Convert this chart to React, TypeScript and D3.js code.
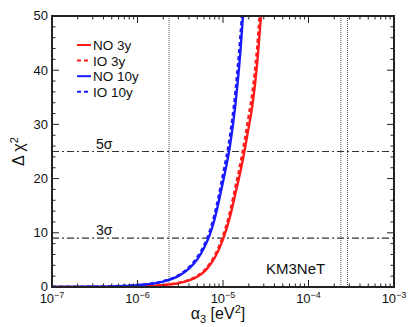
import React from 'react';
import * as d3 from 'd3';

// alpha_3 grid [eV^2] and Delta chi^2 for each configuration
const alphaGrid = [1e-7, 3e-7, 1e-6, 2e-6, 3e-6, 4e-6, 5e-6, 6e-6, 7e-6, 8e-6, 1e-5, 1.2e-5, 1.4e-5, 1.6e-5, 1.8e-5, 2e-5, 2.2e-5, 2.5e-5, 2.8e-5, 3e-5];
const no3y = [0, 0.01, 0.1, 0.35, 0.7, 1.2, 1.9, 2.8, 4.0, 5.4, 8.8, 12.8, 17.3, 21.3, 25.4, 29.5, 33.4, 41, 50.5, 56];
const io3y = [0, 0.01, 0.11, 0.38, 0.75, 1.3, 2.05, 3.0, 4.3, 5.8, 9.4, 13.7, 18.5, 22.8, 27.2, 31.6, 35.7, 43.9, 54, 60];
const no10y = [0, 0.04, 0.35, 1.0, 2.0, 3.4, 5.1, 7.2, 9.6, 12.6, 19.4, 25.8, 33.8, 43.5, 55, 66, 78, 95, 110, 120];
const io10y = [0, 0.05, 0.38, 1.08, 2.15, 3.65, 5.5, 7.7, 10.3, 13.5, 20.8, 27.6, 36.2, 46.5, 58, 70, 82, 100, 115, 125];

const seriesList = [
  { name: 'NO 3y', values: no3y, color: '#ff1a1a', dashed: false },
  { name: 'IO 3y', values: io3y, color: '#ff1a1a', dashed: true },
  { name: 'NO 10y', values: no10y, color: '#1a1aff', dashed: false },
  { name: 'IO 10y', values: io10y, color: '#1a1aff', dashed: true },
];

const sigmaLevels = [
  { label: '3σ', value: 9 },
  { label: '5σ', value: 25 },
];
const verticalMarks = [2.34e-6, 2.39e-4, 2.86e-4];
const xDecades = [-7, -6, -5, -4, -3];
const yTicks = [0, 10, 20, 30, 40, 50];

const W = 417, H = 327;
const left = 52, right = 394, top = 16, bottom = 287;
const font = '"Liberation Sans", Arial, Helvetica, sans-serif';

export default function App() {
  const x = d3.scaleLog().domain([1e-7, 1e-3]).range([left, right]);
  const y = d3.scaleLinear().domain([0, 50]).range([bottom, top]);

  const line = d3.line<number>()
    .x((d, i) => x(alphaGrid[i]))
    .y(d => y(d))
    .curve(d3.curveMonotoneX);

  const minorX: number[] = [];
  xDecades.slice(0, -1).forEach(e => {
    for (let k = 2; k <= 9; k++) minorX.push(k * Math.pow(10, e));
  });
  const minorY = d3.range(0, 51, 2).filter(v => v % 10 !== 0);

  const axisColor = '#222';

  return (
    <svg width={W} height={H} style={{ position: 'absolute', left: 0, top: 0, background: '#fff' }} fontFamily={font}>
      <defs>
        <clipPath id="plotClip">
          <rect x={left} y={top} width={right - left} height={bottom - top} />
        </clipPath>
      </defs>

      {/* vertical reference lines */}
      {verticalMarks.map((v, i) => (
        <line key={i} x1={x(v)} x2={x(v)} y1={top} y2={bottom} stroke="#555" strokeWidth={1} strokeDasharray="1,1" />
      ))}

      {/* sigma lines */}
      {sigmaLevels.map((s, i) => (
        <g key={i}>
          <line x1={left} x2={right} y1={y(s.value)} y2={y(s.value)} stroke="#333" strokeWidth={1.2} strokeDasharray="7,3,2,3" />
          <text x={96} y={y(s.value) - 3} fontSize={14} fill="#111">{s.label}</text>
        </g>
      ))}

      {/* curves */}
      <g clipPath="url(#plotClip)">
        {seriesList.map((s, i) => (
          <path key={i} d={line(s.values) || ''} fill="none" stroke={s.color}
            strokeWidth={2.4} strokeDasharray={s.dashed ? '4,3' : undefined} />
        ))}
      </g>

      {/* frame */}
      <rect x={left} y={top} width={right - left} height={bottom - top} fill="none" stroke={axisColor} strokeWidth={2} />

      {/* x ticks */}
      {xDecades.map(e => {
        const xv = x(Math.pow(10, e));
        return (
          <g key={e}>
            <line x1={xv} x2={xv} y1={bottom} y2={bottom - 7} stroke={axisColor} />
            <line x1={xv} x2={xv} y1={top} y2={top + 7} stroke={axisColor} />
            <text x={xv} y={303} fontSize={13} textAnchor="middle" fill="#111">
              10<tspan fontSize={9} dy={-5}>{'\u2212' + Math.abs(e)}</tspan>
            </text>
          </g>
        );
      })}
      {minorX.map((v, i) => (
        <g key={i}>
          <line x1={x(v)} x2={x(v)} y1={bottom} y2={bottom - 3.5} stroke={axisColor} />
          <line x1={x(v)} x2={x(v)} y1={top} y2={top + 3.5} stroke={axisColor} />
        </g>
      ))}

      {/* y ticks */}
      {yTicks.map(t => (
        <g key={t}>
          <line x1={left} x2={left + 7} y1={y(t)} y2={y(t)} stroke={axisColor} />
          <line x1={right} x2={right - 7} y1={y(t)} y2={y(t)} stroke={axisColor} />
          <text x={48} y={y(t)} dy="0.34em" fontSize={13} textAnchor="end" fill="#111">{t}</text>
        </g>
      ))}
      {minorY.map(t => (
        <g key={t}>
          <line x1={left} x2={left + 3.5} y1={y(t)} y2={y(t)} stroke={axisColor} />
          <line x1={right} x2={right - 3.5} y1={y(t)} y2={y(t)} stroke={axisColor} />
        </g>
      ))}

      {/* axis titles */}
      <text x={218} y={319} fontSize={16} textAnchor="middle" fill="#111">
        α<tspan fontSize={11} dy={4}>3</tspan><tspan dy={-4}> [eV</tspan><tspan fontSize={11} dy={-6}>2</tspan><tspan dy={6}>]</tspan>
      </text>
      <text transform={`translate(24, ${(top + bottom) / 2}) rotate(-90)`} fontSize={16} textAnchor="middle" fill="#111">
        Δ χ<tspan fontSize={11} dy={-6}>2</tspan>
      </text>

      {/* legend */}
      {seriesList.map((s, i) => {
        const ly = 45 + i * 15.6;
        return (
          <g key={i}>
            <line x1={77} x2={91} y1={ly} y2={ly} stroke={s.color} strokeWidth={2}
              strokeDasharray={s.dashed ? '4,3' : undefined} />
            <text x={93} y={ly + 5} fontSize={13.5} fill="#111">{s.name}</text>
          </g>
        );
      })}

      <text x={266} y={274} fontSize={15} fill="#111">KM3NeT</text>
    </svg>
  );
}
